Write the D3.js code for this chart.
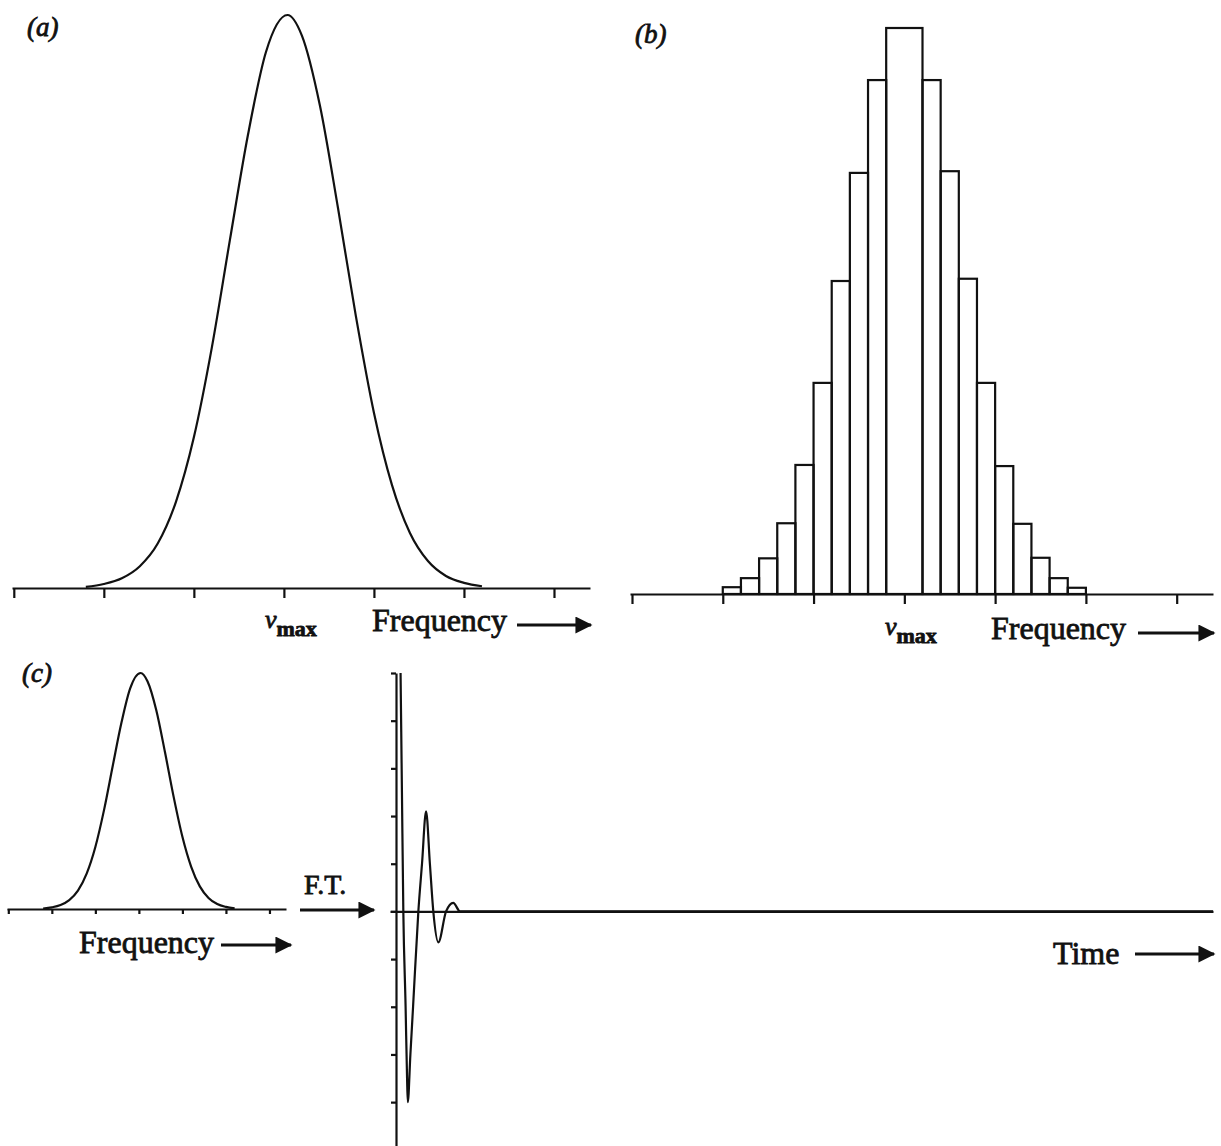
<!DOCTYPE html>
<html lang="en">
<head>
    <meta charset="UTF-8">
    <title>Gaussian line shape, histogram and FID</title>
    <script src="https://d3js.org/d3.v7.min.js"></script>
    <style>
        body { margin: 0; background: #fff; }
        svg { display: block; }
        .lbl { font-family: "Liberation Serif", "Times New Roman", serif; fill: #111; stroke: #111; stroke-width: 0.8px; }
        .axis path, .axis line { stroke: #111; stroke-width: 2.2px; }
    </style>
</head>
<body>
    <svg id="chart" width="1221" height="1146"></svg>
    <script>
        // tick positions on the frequency axes (no labels, just marks)
        var freqTicks = [0, 1, 2, 3, 4, 5, 6];

        // gaussian line shape (a) / (c), position in tick units, relative height
        var gaussX = [0.8, 1.0, 1.2, 1.4, 1.6, 1.8, 2.0, 2.2, 2.4, 2.6, 2.8, 3.04, 3.2, 3.4, 3.6, 3.8, 4.0, 4.2, 4.4, 4.6, 4.8, 5.0, 5.2];
        var gaussY = [0.002, 0.007, 0.017, 0.038, 0.078, 0.15, 0.263, 0.42, 0.607, 0.79, 0.935, 1.0, 0.964, 0.842, 0.664, 0.474, 0.306, 0.18, 0.096, 0.047, 0.021, 0.009, 0.003];

        // histogram of panel (b): bin edges in tick units, bar heights (centre bin is double width)
        var histEdges = [1.0, 1.2, 1.4, 1.6, 1.8, 2.0, 2.2, 2.4, 2.6, 2.8, 3.2, 3.4, 3.6, 3.8, 4.0, 4.2, 4.4, 4.6, 4.8, 5.0];
        var histHeights = [0.012, 0.028, 0.063, 0.125, 0.228, 0.373, 0.553, 0.744, 0.908, 1.0, 0.908, 0.747, 0.557, 0.373, 0.226, 0.124, 0.064, 0.028, 0.011];

        // free induction decay after F.T. (time units, amplitude in tick units)
        var ftTicks = [-4, -3, -2, -1, 0, 1, 2, 3, 4, 5];
        var ftTime = [0, 0.17, 0.34, 0.62, 0.8, 0.89, 1.21, 1.54, 2.19, 2.64, 3.14, 3.61, 4.03, 4.65, 5.6, 6.49, 7.32, 100];
        var ftAmp  = [5.0, 2.5, 0, -2.0, -3.5, -4.0, -3.0, -2.0, 0, 1.0, 2.1, 1.0, 0, -0.65, 0, 0.18, 0, 0];

        var ink = "#111";
        var svg = d3.select("#chart");
        svg.append("rect").attr("width", 1221).attr("height", 1146).attr("fill", "#fff");

        // arrow head marker
        svg.append("defs").append("marker")
            .attr("id", "head")
            .attr("viewBox", "0 0 12 12")
            .attr("refX", 11).attr("refY", 6)
            .attr("markerWidth", 18).attr("markerHeight", 17)
            .attr("markerUnits", "userSpaceOnUse")
            .attr("orient", "auto")
            .append("path").attr("d", "M0,0L12,6L0,12Z").attr("fill", ink);

        function arrow(x1, x2, y) {
            svg.append("line")
                .attr("x1", x1).attr("x2", x2).attr("y1", y).attr("y2", y)
                .attr("stroke", ink).attr("stroke-width", 2.8)
                .attr("marker-end", "url(#head)");
        }

        function label(x, y, txt, size, italic) {
            return svg.append("text").attr("class", "lbl")
                .attr("x", x).attr("y", y)
                .style("font-size", size + "px")
                .style("font-style", italic ? "italic" : "normal")
                .text(txt);
        }

        function numax(x, y) {
            var t = svg.append("text").attr("class", "lbl").attr("x", x).attr("y", y);
            t.append("tspan").style("font-size", "26px").style("font-style", "italic").text("ν");
            t.append("tspan").attr("dy", 8).style("font-size", "22px").style("font-weight", "bold").text("max");
        }

        function freqAxis(xs, y, size) {
            svg.append("g").attr("class", "axis")
                .attr("transform", "translate(0," + y + ")")
                .call(d3.axisBottom(xs).tickValues(freqTicks).tickSize(size).tickSizeOuter(0).tickFormat(""));
        }

        var gaussPts = gaussX.map(function(d, i) { return [d, gaussY[i]]; });

        // ---------- (a) ----------
        var xA = d3.scaleLinear().domain([-0.02, 6.4]).range([12, 590]);
        var yA = d3.scaleLinear().domain([0, 1]).range([588, 15]);
        freqAxis(xA, 588, 10);
        svg.append("path")
            .datum(gaussPts)
            .attr("fill", "none").attr("stroke", ink).attr("stroke-width", 2.2)
            .attr("d", d3.line().x(function(d) { return xA(d[0]); }).y(function(d) { return yA(d[1]); }).curve(d3.curveMonotoneX));
        label(27, 36, "(a)", 27, true);
        numax(265, 628);
        label(372, 631, "Frequency", 32, false);
        arrow(517, 591, 625);

        // ---------- (b) ----------
        var xB = d3.scaleLinear().domain([-0.022, 6.4]).range([630, 1213]);
        var yB = d3.scaleLinear().domain([0, 1]).range([594, 28]);
        svg.append("g").selectAll("rect")
            .data(histHeights)
            .join("rect")
            .attr("x", function(d, i) { return xB(histEdges[i]); })
            .attr("width", function(d, i) { return xB(histEdges[i + 1]) - xB(histEdges[i]); })
            .attr("y", function(d) { return yB(d); })
            .attr("height", function(d) { return yB(0) - yB(d); })
            .attr("fill", "none").attr("stroke", ink).attr("stroke-width", 2.2);
        freqAxis(xB, 594, 10);
        label(635, 43, "(b)", 27, true);
        numax(885, 635);
        label(991, 639, "Frequency", 32, false);
        arrow(1138, 1214, 633);

        // ---------- (c) left: line shape ----------
        var xC = d3.scaleLinear().domain([-0.03, 6.38]).range([7, 286]);
        var yC = d3.scaleLinear().domain([0, 1]).range([909, 673]);
        freqAxis(xC, 909, 5);
        svg.append("path")
            .datum(gaussPts)
            .attr("fill", "none").attr("stroke", ink).attr("stroke-width", 2.2)
            .attr("d", d3.line().x(function(d) { return xC(d[0]); }).y(function(d) { return yC(d[1]); }).curve(d3.curveMonotoneX));
        label(22, 682, "(c)", 27, true);
        label(79, 953, "Frequency", 32, false);
        arrow(221, 291, 945);

        // F.T. arrow
        label(304, 894, "F.T.", 28, false);
        arrow(300, 374, 910);

        // ---------- (c) right: time domain ----------
        var xT = d3.scaleLinear().domain([-1.3, 100]).range([390, 1213]);
        var yT = d3.scaleLinear().domain([-4.92, 5]).range([1146, 673]);
        svg.append("g").attr("class", "axis")
            .attr("transform", "translate(0," + yT(0) + ")")
            .call(d3.axisBottom(xT).tickValues([]).tickSizeOuter(0));
        svg.append("g").attr("class", "axis")
            .attr("transform", "translate(396,0)")
            .call(d3.axisLeft(yT).tickValues(ftTicks).tickSize(5).tickSizeOuter(0).tickFormat(""));
        svg.append("path")
            .datum(ftTime.map(function(d, i) { return [d, ftAmp[i]]; }))
            .attr("fill", "none").attr("stroke", ink).attr("stroke-width", 2.2)
            .attr("d", d3.line().x(function(d) { return xT(d[0]); }).y(function(d) { return yT(d[1]); }).curve(d3.curveMonotoneX));
        label(1053, 964, "Time", 32, false);
        arrow(1135, 1214, 954);
    </script>
</body>
</html>
